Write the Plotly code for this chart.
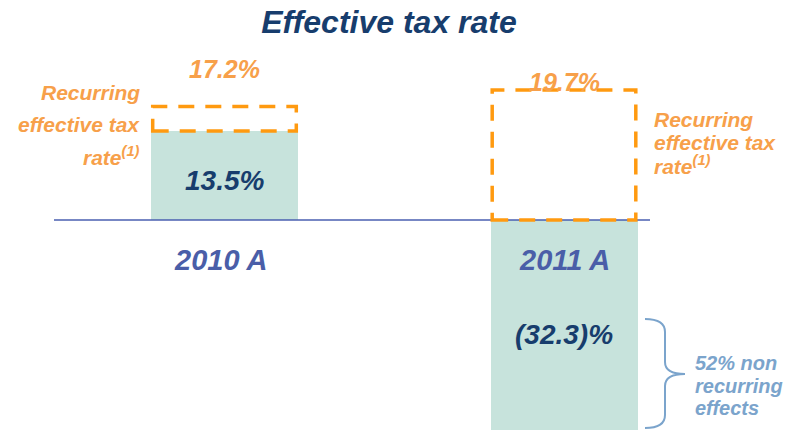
import plotly.graph_objects as go

# ---- data ----
years = ["2010 A", "2011 A"]
effective_rate = [13.5, -32.3]
recurring_rate = [17.2, 19.7]
non_recurring_note = "52% non<br>recurring<br>effects"

# ---- geometry helpers (figure is drawn with zero margins) ----
W, H = 796, 430
BASE_PX = 220          # pixel row of the zero line
PX_PER_PCT = 6.6       # vertical scale
CENTERS_PX = (224.5, 564.0)
UNIT_PX = CENTERS_PX[1] - CENTERS_PX[0]
BAR_W = 147 / UNIT_PX

x_range = [-CENTERS_PX[0] / UNIT_PX, 1 + (W - CENTERS_PX[1]) / UNIT_PX]
y_range = [-(H - BASE_PX) / PX_PER_PCT, BASE_PX / PX_PER_PCT]


def px_x(px):
    return px / W


def px_y(py):
    return 1 - py / H


def fmt(v):
    return f"{v:.1f}%" if v >= 0 else f"({abs(v):.1f})%"


NAVY = "#173d6d"
CAT_BLUE = "#4a5ea8"
ORANGE_TXT = "#f7a04a"
ORANGE_LINE = "#ff9a10"
BAR_FILL = "#c7e3dc"
SIDE_BLUE = "#7ba4cc"
FONT = "Liberation Sans, Arial, sans-serif"

fig = go.Figure()
fig.add_trace(go.Bar(
    x=years, y=effective_rate, width=BAR_W,
    marker=dict(color=BAR_FILL, line=dict(width=0)),
    hoverinfo="skip", showlegend=False,
))

shapes = []
annotations = []

# zero line
shapes.append(dict(
    type="line", xref="x", yref="y",
    x0=(54 - CENTERS_PX[0]) / UNIT_PX, x1=(650 - CENTERS_PX[0]) / UNIT_PX,
    y0=0, y1=0, line=dict(color="#4a5fb0", width=1.5), layer="above",
))

for i, (yr, eff, rec) in enumerate(zip(years, effective_rate, recurring_rate)):
    # dashed recurring-rate box
    shapes.append(dict(
        type="rect", xref="x", yref="y",
        x0=i - BAR_W / 2 + 0.005, x1=i + BAR_W / 2 - 0.005,
        y0=max(eff, 0), y1=rec,
        line=dict(color=ORANGE_LINE, width=3.5, dash="16px,11px"),
        fillcolor="rgba(0,0,0,0)", layer="above",
    ))
    # category label below the zero line
    annotations.append(dict(
        x=i, y=0, xref="x", yref="y", text=f"<b><i>{yr}</i></b>",
        showarrow=False, yanchor="middle", yshift=-40,
        xshift=-4 if i == 0 else 0,
        font=dict(family=FONT, size=29, color=CAT_BLUE),
    ))

# recurring rate labels
annotations.append(dict(
    x=0, y=recurring_rate[0], xref="x", yref="y",
    text=f"<b><i>{fmt(recurring_rate[0])}</i></b>", showarrow=False,
    yanchor="bottom", yshift=21,
    font=dict(family=FONT, size=25, color=ORANGE_TXT),
))
annotations.append(dict(
    x=1, y=recurring_rate[1], xref="x", yref="y",
    text=f"<b><i>{fmt(recurring_rate[1])}</i></b>", showarrow=False,
    yanchor="bottom", yshift=-8,
    font=dict(family=FONT, size=25, color=ORANGE_TXT),
))

# effective rate labels inside the bars
annotations.append(dict(
    x=0, y=effective_rate[0] / 2, xref="x", yref="y",
    text=f"<b><i>{fmt(effective_rate[0])}</i></b>", showarrow=False,
    yanchor="middle", yshift=-5,
    font=dict(family=FONT, size=28, color=NAVY),
))
annotations.append(dict(
    x=1, y=(BASE_PX - 334) / PX_PER_PCT, xref="x", yref="y",
    text=f"<b><i>{fmt(effective_rate[1])}</i></b>", showarrow=False,
    yanchor="middle",
    font=dict(family=FONT, size=28, color=NAVY),
))

# "Recurring effective tax rate(1)" side notes
side_lines = ["Recurring", "effective tax", "rate<sup>(1)</sup>"]
for line, py in zip(side_lines, [92, 124, 156]):
    annotations.append(dict(
        x=px_x(142), y=px_y(py), xref="paper", yref="paper",
        text=f"<b><i>{line}</i></b>", showarrow=False,
        xanchor="right", yanchor="middle",
        font=dict(family=FONT, size=21, color=ORANGE_TXT),
    ))
for line, py in zip(side_lines, [119, 142, 165]):
    annotations.append(dict(
        x=px_x(652), y=px_y(py), xref="paper", yref="paper",
        text=f"<b><i>{line}</i></b>", showarrow=False,
        xanchor="left", yanchor="middle",
        font=dict(family=FONT, size=21, color=ORANGE_TXT),
    ))

# brace + non-recurring note
pts = [("M", 645, 319), ("Q", 665, 319), ("", 665, 332), ("L", 665, 362),
       ("Q", 665, 374), ("", 685, 374), ("Q", 665, 374), ("", 665, 386),
       ("L", 665, 415), ("Q", 665, 428), ("", 645, 428)]
path = " ".join(f"{c} {px_x(a):.5f},{px_y(b):.5f}" if c else f"{px_x(a):.5f},{px_y(b):.5f}"
                for c, a, b in pts)
shapes.append(dict(type="path", xref="paper", yref="paper", path=path,
                   line=dict(color=SIDE_BLUE, width=2)))
for line, py in zip(non_recurring_note.split("<br>"), [363, 386, 408]):
    annotations.append(dict(
        x=px_x(693), y=px_y(py), xref="paper", yref="paper",
        text=f"<b><i>{line}</i></b>", showarrow=False,
        xanchor="left", yanchor="middle",
        font=dict(family=FONT, size=20, color=SIDE_BLUE),
    ))

fig.update_layout(
    width=W, height=H, autosize=False,
    margin=dict(l=0, r=0, t=0, b=0),
    paper_bgcolor="white", plot_bgcolor="white",
    title=dict(text="<b><i>Effective tax rate</i></b>", x=px_x(389), xanchor="center",
               y=px_y(22), yanchor="middle", yref="container",
               font=dict(family=FONT, size=32, color=NAVY)),
    xaxis=dict(range=x_range, visible=False, fixedrange=True),
    yaxis=dict(range=y_range, visible=False, fixedrange=True),
    shapes=shapes, annotations=annotations,
    bargap=0,
)

fig.write_html("out.html")
